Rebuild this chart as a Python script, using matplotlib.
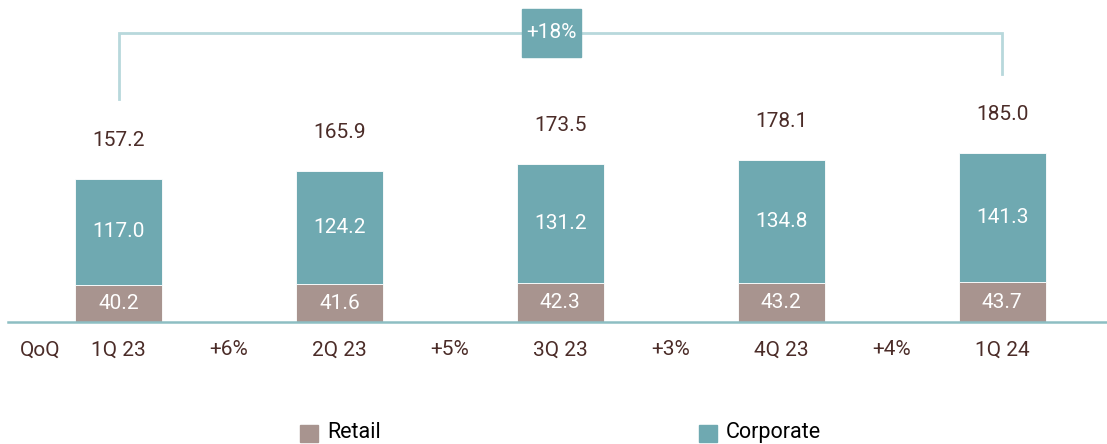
import matplotlib.pyplot as plt
from matplotlib.patches import Rectangle

# Loan book by segment
quarters = ['1Q 23', '2Q 23', '3Q 23', '4Q 23', '1Q 24']
retail = [40.2, 41.6, 42.3, 43.2, 43.7]
corporate = [117.0, 124.2, 131.2, 134.8, 141.3]
totals = [157.2, 165.9, 173.5, 178.1, 185.0]
qoq = ['+6%', '+5%', '+3%', '+4%']
growth = '+18%'

C_CORP = '#6fa9b1'
C_RET = '#a8948f'
C_TXT = '#4b2c28'
C_BRACKET = '#b8d8dc'
C_AXIS = '#8dbec3'
FS = 15

plt.rcParams['font.family'] = ['Roboto', 'DejaVu Sans']

fig = plt.figure(figsize=(11.07, 4.44), dpi=100)
ax = fig.add_axes([0, 0, 1, 1])
ax.set_xlim(-0.5365, 4.475)
ax.set_ylim(-133.8, 353.1)
ax.axis('off')

x = list(range(len(quarters)))
w = 0.394
ax.bar(x, retail, width=w, color=C_RET, edgecolor='white', linewidth=0.6)
ax.bar(x, corporate, width=w, bottom=retail, color=C_CORP, edgecolor='white', linewidth=0.6)

ax.axhline(0, xmin=0.007, xmax=1, color=C_AXIS, lw=1.8)

for i in x:
    ax.text(i, retail[i] / 2, f'{retail[i]:.1f}', ha='center', va='center',
            color='white', fontsize=FS)
    ax.text(i, retail[i] + corporate[i] / 2, f'{corporate[i]:.1f}', ha='center',
            va='center', color='white', fontsize=FS)
    ax.text(i, totals[i] + 42, f'{totals[i]:.1f}', ha='center', va='center',
            color=C_TXT, fontsize=FS)
    ax.text(i, -30.7, quarters[i], ha='center', va='center', color=C_TXT, fontsize=FS)

for i, q in enumerate(qoq):
    ax.text(i + 0.5, -30.7, q, ha='center', va='center', color=C_TXT, fontsize=FS)
ax.text(-0.355, -30.7, 'QoQ', ha='center', va='center', color=C_TXT, fontsize=FS)

# growth bracket from first to last quarter
top = 317
ax.plot([0, 0, x[-1], x[-1]], [totals[0] + 87, top, top, totals[-1] + 87],
        color=C_BRACKET, lw=2, solid_joinstyle='miter')
bx, bw, bh = 1.958, 0.267, 52.6
ax.add_patch(Rectangle((bx - bw / 2, top - bh / 2), bw, bh, color=C_CORP, zorder=3))
ax.text(bx, top, growth, ha='center', va='center', color='white', fontsize=FS, zorder=4)

# legend
W, H = 1107, 444
for px, label, col in [(300, 'Retail', C_RET), (699, 'Corporate', C_CORP)]:
    fig.patches.append(Rectangle((px / W, (H - 442) / H), 18 / W, 17 / H,
                                 transform=fig.transFigure, color=col))
    fig.text((px + 27) / W, (H - 432) / H, label, ha='left', va='center',
             color='black', fontsize=15.5)

fig.savefig('out.png', dpi=100)
